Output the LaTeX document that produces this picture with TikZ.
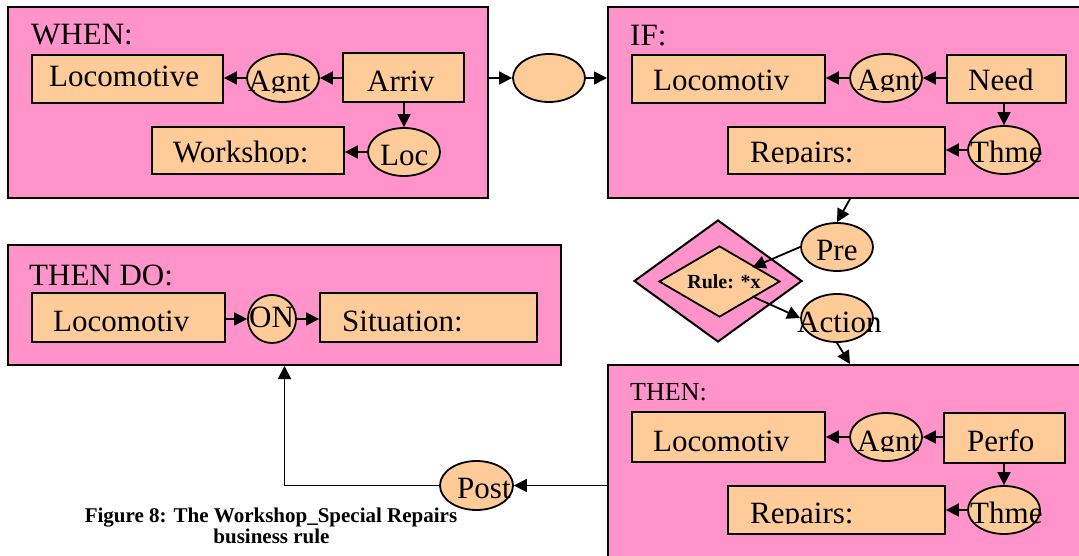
\documentclass[tikz,border=0pt]{standalone}
\usepackage{fontspec}
\setmainfont{Liberation Serif}
\usetikzlibrary{arrows.meta,shapes.geometric,fit}
\definecolor{pinkbg}{RGB}{255,147,202}
\definecolor{peach}{RGB}{255,204,153}
\newcommand\cliptext[4]{\begin{scope}\clip (#2-10,#3+0.5) rectangle (#2+300,#3-45);\node[lbl] (#1) at (#2,#3) {#4};\end{scope}}
\begin{document}
\begin{tikzpicture}[x=1pt,y=-1pt,
  big/.style={draw, line width=2pt, fill=pinkbg, inner sep=0pt},
  item/.style={draw, line width=1.8pt, fill=peach, inner sep=0pt},
  ell/.style={item, ellipse, minimum width=72pt, minimum height=48pt},
  lbl/.style={font=\fontsize{31}{31}\selectfont, inner sep=0pt, anchor=base west},
  arr/.style={draw, line width=1.8pt, -{Triangle[length=13pt,width=13pt]}}]
\useasboundingbox (0,0) rectangle (1079,556);
\fill[white] (0,0) rectangle (1079,556);
\clip (0,0) rectangle (1079,556);

% ---------- WHEN ----------
\node[big, fit={(8,7)(488,198)}] (whenbox) {};
\node[lbl] (whenlbl) at (31,45) {WHEN:};
\node[item, fit={(32,55)(223,103)}] (loco1) {};
\node[ell] (agnt1) at (283,78) {};
\node[item, fit={(343,53)(464,102)}] (arriv) {};
\node[item, fit={(152,127)(344,174)}] (ws1) {};
\node[ell] (loc1) at (404,152) {};
\draw[arr] (arriv.west |- agnt1.east) -- (agnt1.east);
\draw[arr] (agnt1.west) -- (agnt1.west -| loco1.east);
\draw[arr] (arriv.south -| loc1.north) -- (loc1.north);
\draw[arr] (loc1.west) -- (loc1.west -| ws1.east);
\cliptext{t1}{49}{87}{Locomotive}
\cliptext{t2}{248}{92}{Agnt}
\cliptext{t3}{367}{92}{Arriv}
\cliptext{t4}{173}{163}{Workshop:}
\cliptext{t5}{380}{166}{Loc}

% ---------- middle ellipse ----------
\node[ell] (midell) at (549,78) {};

% ---------- IF ----------
\node[big, fit={(608,7)(1092,198)}] (ifbox) {};
\node[lbl] (iflbl) at (630,46) {IF:};
\node[item, fit={(632,55)(825,103)}] (loco2) {};
\node[ell] (agnt2) at (886,78) {};
\node[item, fit={(947,55)(1066,103)}] (need) {};
\node[item, fit={(728,127)(945,174)}] (rep2) {};
\node[ell] (thme2) at (1004,150) {};
\draw[arr] (need.west |- agnt2.east) -- (agnt2.east);
\draw[arr] (agnt2.west) -- (agnt2.west -| loco2.east);
\draw[arr] (need.south -| thme2.north) -- (thme2.north);
\draw[arr] (thme2.west) -- (thme2.west -| rep2.east);
\cliptext{t6}{653}{91}{Locomotiv}
\cliptext{t7}{857}{91}{Agnt}
\cliptext{t8}{968}{91}{Need}
\cliptext{t9}{750}{163}{Repairs:}
\cliptext{t10}{970}{163}{Thme}

\draw[arr] (whenbox.east |- midell.west) -- (midell.west);
\draw[arr] (midell.east) -- (midell.east -| ifbox.west);

% ---------- rule diamond ----------
\node[big, diamond, minimum width=168pt, minimum height=122pt] (outerd) at (718,281) {};
\node[item, diamond, minimum width=121pt, minimum height=71pt] (rule) at (719.5,281.5) {};
\node[font=\bfseries\fontsize{20}{20}\selectfont, inner sep=0pt, anchor=base] (ruletxt) at (724,288) {Rule: *x};
\node[ell] (pre) at (837,247) {};
\node[ell] (action) at (837,318) {};
\draw[arr] (ifbox.south) -- (pre.north);
\draw[arr, shorten >=36pt] (pre.west) -- (rule.center);
\draw[arr, shorten <=36pt] (rule.center) -- (action.west);
\cliptext{t11}{816}{260}{Pre}
\cliptext{t12}{797}{332}{Action}

% ---------- THEN ----------
\node[big, fit={(608,365)(1092,590)}] (thenbox) {};
\draw[arr] (action.south) -- (thenbox.north);
\node[lbl, font=\fontsize{26}{26}\selectfont] (thenlbl) at (630,400) {THEN:};
\node[item, fit={(632,412)(825,462)}] (loco3) {};
\node[ell] (agnt3) at (886,437) {};
\node[item, fit={(944,413)(1065,463)}] (perfo) {};
\node[item, fit={(728,486)(945,534)}] (rep3) {};
\node[ell] (thme3) at (1004,510) {};
\draw[arr] (perfo.west |- agnt3.east) -- (agnt3.east);
\draw[arr] (agnt3.west) -- (agnt3.west -| loco3.east);
\draw[arr] (perfo.south -| thme3.north) -- (thme3.north);
\draw[arr] (thme3.west) -- (thme3.west -| rep3.east);
\cliptext{t13}{653}{451}{Locomotiv}
\cliptext{t14}{857}{451}{Agnt}
\cliptext{t15}{967}{451}{Perfo}
\cliptext{t16}{750}{523}{Repairs:}
\cliptext{t17}{970}{523}{Thme}

% ---------- THEN DO ----------
\node[big, fit={(8,245)(561,365)}] (thendo) {};
\node[lbl] (thendolbl) at (29,285) {THEN DO:};
\node[item, fit={(32,293)(225,342)}] (loco4) {};
\node[ell, minimum width=48pt, minimum height=48pt] (on) at (272,319) {};
\node[item, fit={(320,293)(537,342)}] (sit) {};
\draw[arr] (loco4.east |- on.west) -- (on.west);
\draw[arr] (on.east) -- (on.east -| sit.west);
\cliptext{t18}{53}{331}{Locomotiv}
\cliptext{t19}{249}{327}{ON}
\cliptext{t20}{342}{331}{Situation:}

% ---------- Post ----------
\node[ell, minimum width=73pt, minimum height=49pt] (post) at (476.5,485.5) {};
\draw[arr] (thenbox.west |- post.east) -- (post.east);
\draw[arr] (post.west) -| (thendo.south);
\cliptext{t21}{457}{498}{Post}

% ---------- caption ----------
\node[font=\bfseries\fontsize{21}{21}\selectfont, inner sep=0pt, anchor=base] (cap1) at (271,522) {Figure 8: The Workshop\_Special Repairs};
\node[font=\bfseries\fontsize{21}{21}\selectfont, inner sep=0pt, anchor=base] (cap2) at (271.5,543) {business rule};
\end{tikzpicture}
\end{document}
